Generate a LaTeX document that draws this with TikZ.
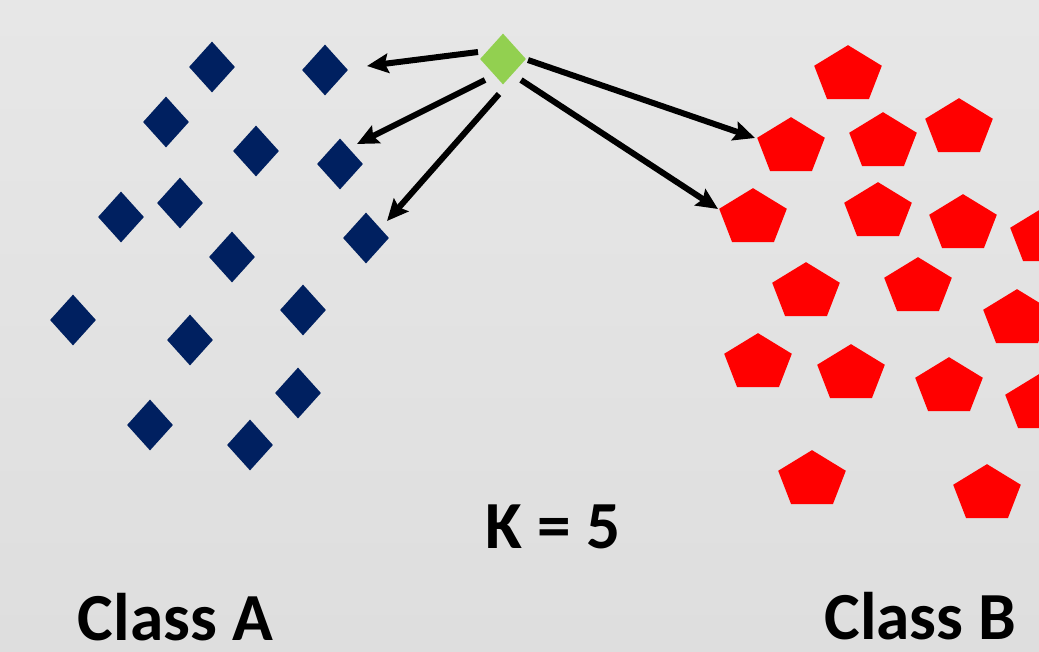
\documentclass[tikz,border=0pt]{standalone}
\usepackage{fontspec}
\setmainfont{Carlito}
\usetikzlibrary{shapes.geometric,arrows.meta}
\definecolor{bgtop}{RGB}{231,231,231}
\definecolor{bgbot}{RGB}{222,222,222}
\definecolor{navy}{RGB}{0,32,96}
\definecolor{query}{RGB}{146,208,80}
\definecolor{classb}{RGB}{255,0,0}
\begin{document}
\begin{tikzpicture}[x=0.75pt,y=-0.75pt,
  dia/.style={diamond, fill=navy, inner sep=0pt, minimum width=34.5pt, minimum height=38.25pt},
  qdia/.style={dia, fill=query},
  pent/.style={regular polygon, regular polygon sides=5, fill=classb, inner sep=0pt,
               minimum size=44.8pt, xscale=1.19, transform shape},
  arr/.style={-{Stealth[length=16pt,width=14.5pt,inset=2.5pt]}, line width=4.5pt, black},
  lbl/.style={font=\bfseries\fontsize{50.5}{60}\selectfont, inner sep=0pt, anchor=base}]

% canvas and background
\useasboundingbox (0,0) rectangle (1039,651);
\clip (0,0) rectangle (1039,651);
\shade[top color=bgtop, bottom color=bgbot] (0,0) rectangle (1039,651);

% class A samples
\node[dia] (a1)  at (212,67)  {};
\node[dia] (a2)  at (325,70)  {};
\node[dia] (a3)  at (166,122) {};
\node[dia] (a4)  at (256,151) {};
\node[dia] (a5)  at (340,164) {};
\node[dia] (a6)  at (121,217) {};
\node[dia] (a7)  at (180,203) {};
\node[dia] (a8)  at (232,257) {};
\node[dia] (a9)  at (366,238) {};
\node[dia] (a10) at (73,320)  {};
\node[dia] (a11) at (190,340) {};
\node[dia] (a12) at (303,310) {};
\node[dia] (a13) at (150,425) {};
\node[dia] (a14) at (250,445) {};
\node[dia] (a15) at (298,393) {};

% class B samples
\node[pent] (b1)  at (848,75)  {};
\node[pent] (b2)  at (791,147) {};
\node[pent] (b3)  at (883,142) {};
\node[pent] (b4)  at (959,128) {};
\node[pent] (b5)  at (753,218) {};
\node[pent] (b6)  at (878,212) {};
\node[pent] (b7)  at (963,224) {};
\node[pent] (b8)  at (1044,237) {};
\node[pent] (b9)  at (806,292) {};
\node[pent] (b10) at (918,287) {};
\node[pent] (b11) at (1017,319) {};
\node[pent] (b12) at (758,363) {};
\node[pent] (b13) at (851,374) {};
\node[pent] (b14) at (949,387) {};
\node[pent] (b15) at (1039,404) {};
\node[pent] (b16) at (812,480) {};
\node[pent] (b17) at (987,494) {};

% query point
\node[qdia] (q) at (503,59) {};

% arrow ends near the query and near the five nearest neighbours
\coordinate (s1) at (478,52);  \coordinate (t1) at (367,66);
\coordinate (s2) at (485,80);  \coordinate (t2) at (357,144);
\coordinate (s3) at (499,94);  \coordinate (t3) at (387,221);
\coordinate (s4) at (528,60);  \coordinate (t4) at (755,138);
\coordinate (s5) at (521,80);  \coordinate (t5) at (718,209);

\draw[arr] (s1) -- (t1);
\draw[arr] (s2) -- (t2);
\draw[arr] (s3) -- (t3);
\draw[arr] (s4) -- (t4);
\draw[arr] (s5) -- (t5);

% labels
\node[lbl] (k)  at (553,548)   {K = 5};
\node[lbl] (la) at (175.5,640) {Class A};
\node[lbl] (lb) at (920.5,639) {Class B};
\end{tikzpicture}
\end{document}
